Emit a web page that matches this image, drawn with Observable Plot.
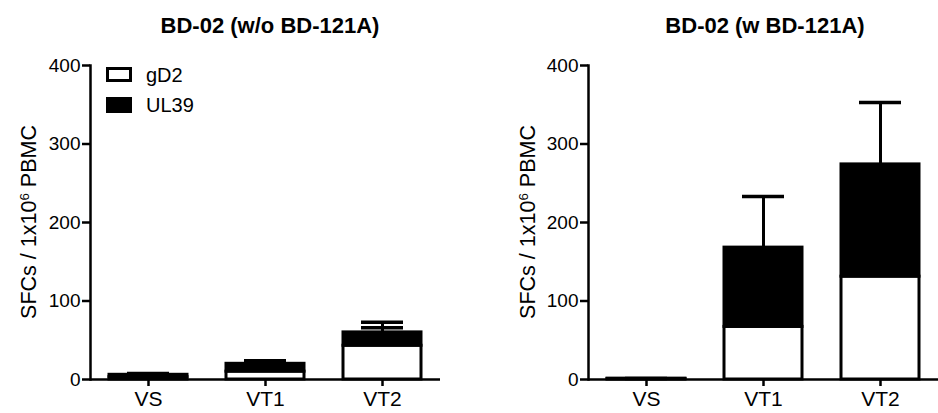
<!DOCTYPE html>
<html><head><meta charset="utf-8">
<script src="https://cdn.jsdelivr.net/npm/d3@7"></script>
<script src="https://cdn.jsdelivr.net/npm/@observablehq/plot@0.6"></script>
<style>
body{margin:0;background:#fff;font-family:"Liberation Sans",Arial,sans-serif;color:#000;}
#wrap{position:relative;width:938px;height:413px;overflow:hidden;background:#fff;}
.title{position:absolute;top:13px;width:469px;text-align:center;font-weight:bold;font-size:22px;white-space:nowrap;}
.ylab{position:absolute;font-size:21.5px;white-space:nowrap;transform:translate(-50%,-50%) rotate(-90deg);line-height:1;}
.ylab sup{font-size:0.62em;vertical-align:0.55em;line-height:0;}
.panel{position:absolute;top:45px;}
.leg{position:absolute;font-size:20px;line-height:1;}
.sw{position:absolute;box-sizing:border-box;border:3px solid #000;}
</style></head>
<body><div id="wrap"></div>
<script>
const categories = ["VS", "VT1", "VT2"];
const series = ["gD2", "UL39"];
const titles = ["BD-02 (w/o BD-121A)", "BD-02 (w BD-121A)"];
const yTicks = [0, 100, 200, 300, 400];

// Left panel (w/o BD-121A)
const leftGD2 = [3, 10, 43];
const leftUL39 = [3, 10, 17];
const leftGD2Err = [null, null, 23];
const leftTotalErr = [1.5, 4, 13];

// Right panel (w BD-121A)
const rightGD2 = [0.5, 67, 131];
const rightUL39 = [0.6, 101, 143];
const rightGD2Err = [null, null, null];
const rightTotalErr = [0.3, 65, 79];

const wrap = document.getElementById("wrap");

function panel(gd2, ul39, gd2Err, totErr, left, marginLeft, marginRight, title, titleCenter, ylabX) {
  const rows = [];
  categories.forEach((c, i) => rows.push({cat: c, series: "gD2", value: gd2[i]}));
  categories.forEach((c, i) => rows.push({cat: c, series: "UL39", value: ul39[i]}));
  const errs = [];
  categories.forEach((c, i) => {
    if (gd2Err[i] != null) errs.push({cat: c, base: gd2[i], top: gd2[i] + gd2Err[i]});
    if (totErr[i] != null) errs.push({cat: c, base: gd2[i] + ul39[i], top: gd2[i] + ul39[i] + totErr[i]});
  });
  const chart = Plot.plot({
    width: 469, height: 368,
    marginTop: 20, marginBottom: 34, marginLeft, marginRight,
    style: {background: "white", color: "black", fontFamily: '"Liberation Sans",Arial,sans-serif', overflow: "visible"},
    x: {domain: categories, paddingInner: 0.33, paddingOuter: 0.155, label: null},
    y: {domain: [0, 400], label: null},
    color: {domain: series, range: ["white", "black"]},
    marks: [
      Plot.barY(rows, {x: "cat", y: "value", fill: "series", stroke: "black", strokeWidth: 3, order: series}),
      Plot.ruleX(errs, {x: "cat", y1: "base", y2: "top", stroke: "black", strokeWidth: 3}),
      Plot.tickY(errs, {x: "cat", y: "top", stroke: "black", strokeWidth: 3.5, insetLeft: 18, insetRight: 18}),
      Plot.axisY({ticks: yTicks, tickSize: 8, tickPadding: 2, fontSize: 19, strokeWidth: 2.5, label: null}),
      Plot.axisX({tickSize: 7, tickPadding: 5, fontSize: 21, strokeWidth: 2.5, label: null}),
      Plot.frame({anchor: "left", strokeWidth: 2.5}),
      Plot.ruleY([0], {strokeWidth: 2.5})
    ]
  });
  chart.classList.add("panel");
  chart.style.left = left + "px";
  wrap.appendChild(chart);

  const t = document.createElement("div");
  t.className = "title";
  t.textContent = title;
  t.style.left = (titleCenter - 234.5) + "px";
  wrap.appendChild(t);

  const yl = document.createElement("div");
  yl.className = "ylab";
  yl.innerHTML = "SFCs / 1x10<sup>6</sup> PBMC";
  yl.style.left = ylabX + "px";
  yl.style.top = "222px";
  wrap.appendChild(yl);
}

panel(leftGD2, leftUL39, leftGD2Err, leftTotalErr, 0, 90, 29, titles[0], 270, 30);
panel(rightGD2, rightUL39, rightGD2Err, rightTotalErr, 469, 119, 0, titles[1], 765, 529);

// legend
const legendItems = [
  {name: series[0], fill: "white", top: 67, h: 15},
  {name: series[1], fill: "black", top: 97, h: 16}
];
legendItems.forEach(d => {
  const s = document.createElement("div");
  s.className = "sw";
  s.style.left = "106px"; s.style.top = d.top + "px";
  s.style.width = "26px"; s.style.height = d.h + "px";
  s.style.background = d.fill;
  wrap.appendChild(s);
  const l = document.createElement("div");
  l.className = "leg";
  l.textContent = d.name;
  l.style.left = "146px"; l.style.top = (d.top - 2) + "px";
  wrap.appendChild(l);
});
</script></body></html>
